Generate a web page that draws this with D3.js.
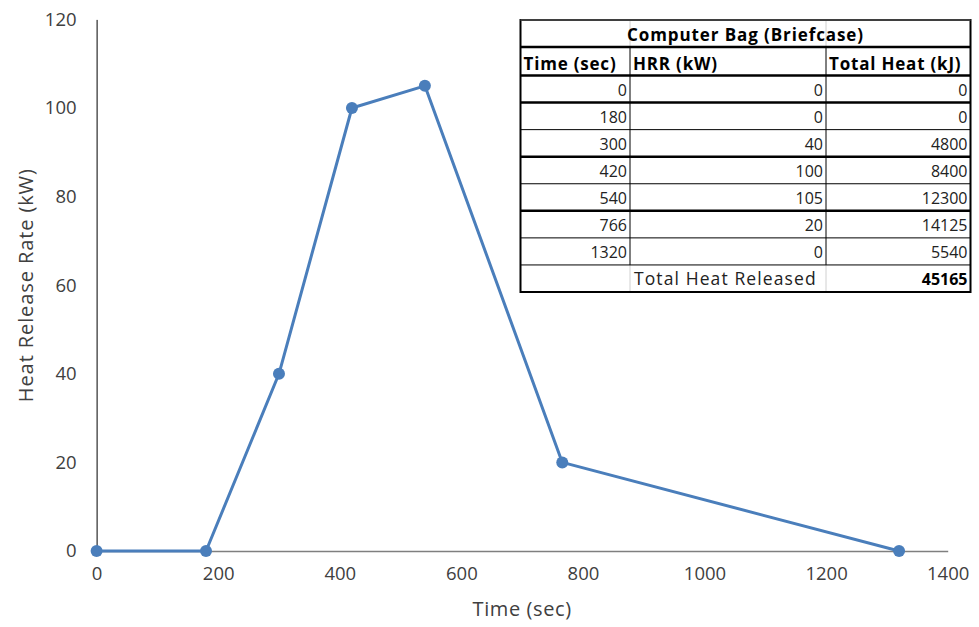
<!DOCTYPE html>
<html>
<head>
<meta charset="utf-8">
<script src="https://cdn.jsdelivr.net/npm/d3@7"></script>
<style>
  html, body { margin: 0; padding: 0; background: #fff; }
  svg { display: block; }
  text { font-family: "Open Sans", Lato, sans-serif; }
</style>
</head>
<body>
<svg id="chart" width="979" height="627"></svg>
<script>
// Heat release rate curve for a computer bag (briefcase)
const timeSec = [0, 180, 300, 420, 540, 766, 1320];
const hrrKW = [0, 0, 40, 100, 105, 20, 0];
const totalHeatKJ = [0, 0, 4800, 8400, 12300, 14125, 5540];
const totalReleased = 45165;

const xTicks = [0, 200, 400, 600, 800, 1000, 1200, 1400];
const yTicks = [0, 20, 40, 60, 80, 100, 120];

const tableTitle = "Computer Bag (Briefcase)";
const tableHeaders = ["Time (sec)", "HRR (kW)", "Total Heat (kJ)"];
const totalLabel = "Total Heat Released";

const svg = d3.select("#chart");
const lineColor = "#4a7ebb";
const tickColor = "#404040";

const x = d3.scaleLinear().domain([0, 1400]).range([96.6, 947.7]);
const y = d3.scaleLinear().domain([0, 120]).range([551, 19.4]);

// Axes
const xAxis = svg.append("g").attr("transform", `translate(0,${y(0)})`)
  .call(d3.axisBottom(x).tickValues(xTicks).tickSize(0).tickPadding(16).tickFormat(d3.format("d")));
xAxis.select(".domain").attr("stroke", "#7f7f7f").attr("stroke-width", 1.3);
xAxis.selectAll("text").attr("font-family", "Lato, sans-serif").attr("font-size", 18.5).attr("fill", tickColor);

const yAxis = svg.append("g").attr("transform", `translate(${x(0)},0)`)
  .call(d3.axisLeft(y).tickValues(yTicks).tickSize(0).tickPadding(20).tickFormat(d3.format("d")));
yAxis.select(".domain").attr("stroke", "#000").attr("stroke-width", 1);
yAxis.selectAll("text").attr("font-family", "Lato, sans-serif").attr("font-size", 18.5).attr("fill", tickColor);
xAxis.raise();

svg.append("text")
  .attr("x", (x(0) + x(1400)) / 2).attr("y", 616)
  .attr("text-anchor", "middle").attr("font-size", 20).attr("letter-spacing", 0.6)
  .attr("fill", tickColor)
  .text("Time (sec)");

svg.append("text")
  .attr("transform", `translate(33,${(y(0) + y(120)) / 2}) rotate(-90)`)
  .attr("text-anchor", "middle").attr("font-size", 20).attr("letter-spacing", 0.9)
  .attr("fill", tickColor)
  .text("Heat Release Rate (kW)");

// Series line and markers
const pts = timeSec.map((t, i) => ({ t, v: hrrKW[i] }));
svg.append("path")
  .datum(pts)
  .attr("fill", "none").attr("stroke", lineColor).attr("stroke-width", 3)
  .attr("stroke-linejoin", "round")
  .attr("d", d3.line().x(d => x(d.t)).y(d => y(d.v)));
svg.selectAll("circle.pt").data(pts).join("circle")
  .attr("class", "pt")
  .attr("cx", d => x(d.t)).attr("cy", d => y(d.v)).attr("r", 6)
  .attr("fill", lineColor);

// Data table
const tbl = svg.append("g");
const colX = [520.5, 630, 826, 970.5];
const rowY = [20, 47, 75.5];
const nRows = timeSec.length + 1;
const rowH = (292 - 75.5) / nRows;
for (let i = 1; i <= nRows; i++) rowY.push(75.5 + i * rowH);

tbl.append("rect")
  .attr("x", colX[0]).attr("y", rowY[0])
  .attr("width", colX[3] - colX[0]).attr("height", rowY[rowY.length - 1] - rowY[0])
  .attr("fill", "#fff");

// vertical dividers: light in title row, black in body, light in total row
[1, 2].forEach(c => {
  tbl.append("line").attr("x1", colX[c]).attr("x2", colX[c])
    .attr("y1", rowY[0]).attr("y2", rowY[1]).attr("stroke", "#d0d0d0").attr("stroke-width", 1);
  tbl.append("line").attr("x1", colX[c]).attr("x2", colX[c])
    .attr("y1", rowY[1]).attr("y2", rowY[rowY.length - 2]).attr("stroke", "#000").attr("stroke-width", 1);
  tbl.append("line").attr("x1", colX[c]).attr("x2", colX[c])
    .attr("y1", rowY[rowY.length - 2]).attr("y2", rowY[rowY.length - 1]).attr("stroke", "#d0d0d0").attr("stroke-width", 1);
});

// horizontal rules
const thick = new Set([1, 2, 3, 5, 7]);
for (let i = 1; i < rowY.length - 1; i++) {
  tbl.append("line").attr("x1", colX[0]).attr("x2", colX[3])
    .attr("y1", rowY[i]).attr("y2", rowY[i])
    .attr("stroke", "#000").attr("stroke-width", thick.has(i) ? 2.5 : 1);
}
// outer border
tbl.append("rect")
  .attr("x", colX[0]).attr("y", rowY[0])
  .attr("width", colX[3] - colX[0]).attr("height", rowY[rowY.length - 1] - rowY[0])
  .attr("fill", "none").attr("stroke", "#000").attr("stroke-width", 2);
tbl.append("line").attr("x1", colX[0]).attr("x2", colX[3])
  .attr("y1", rowY[0]).attr("y2", rowY[0]).attr("stroke", "#555").attr("stroke-width", 1.5);

const fs = 16;
tbl.append("text")
  .attr("x", (colX[0] + colX[3]) / 2).attr("y", rowY[0] + 20.5)
  .attr("text-anchor", "middle").attr("font-size", 17).attr("letter-spacing", 0.9)
  .attr("font-weight", "bold")
  .text(tableTitle);
tableHeaders.forEach((h, c) => {
  tbl.append("text")
    .attr("x", colX[c] + 3).attr("y", rowY[1] + 22.5)
    .attr("font-size", 17).attr("letter-spacing", 0.8).attr("font-weight", "bold").text(h);
});
timeSec.forEach((t, i) => {
  const by = rowY[2 + i] + 20;
  [t, hrrKW[i], totalHeatKJ[i]].forEach((v, c) => {
    tbl.append("text")
      .attr("x", colX[c + 1] - 3).attr("y", by)
      .attr("text-anchor", "end").attr("font-size", fs).attr("fill", "#222")
      .text(v);
  });
});
const lastBy = rowY[rowY.length - 2] + 20;
tbl.append("text").attr("x", colX[1] + 4).attr("y", lastBy)
  .attr("font-size", 17.5).attr("letter-spacing", 1.1).attr("fill", "#222").text(totalLabel);
tbl.append("text").attr("x", colX[3] - 3).attr("y", lastBy)
  .attr("text-anchor", "end").attr("font-size", fs).attr("font-weight", "bold")
  .text(totalReleased);
</script>
</body>
</html>
